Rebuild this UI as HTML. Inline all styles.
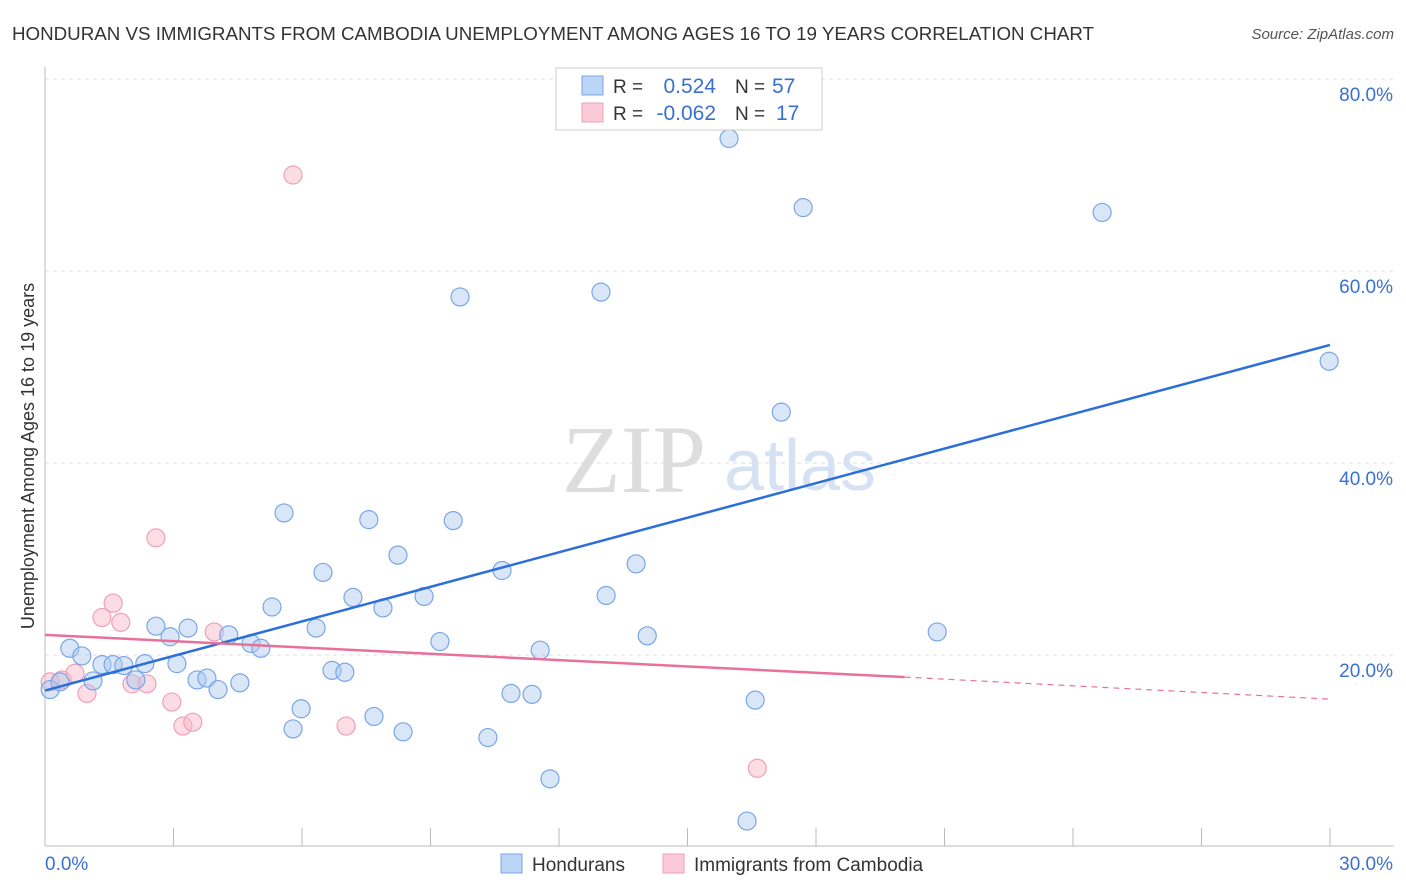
<!DOCTYPE html>
<html><head><meta charset="utf-8"><style>
body{margin:0;background:#fff;font-family:"Liberation Sans",sans-serif;}
#wrap{position:relative;width:1406px;height:892px;overflow:hidden}
</style></head><body>
<div id="wrap">
<svg id="svg" width="1406" height="892" xmlns="http://www.w3.org/2000/svg" font-family="Liberation Sans, sans-serif">
<text x="12" y="40" font-size="18.5" fill="#333" textLength="1082" lengthAdjust="spacingAndGlyphs">HONDURAN VS IMMIGRANTS FROM CAMBODIA UNEMPLOYMENT AMONG AGES 16 TO 19 YEARS CORRELATION CHART</text>
<text x="1394" y="39" font-size="15" fill="#555" font-style="italic" text-anchor="end">Source: ZipAtlas.com</text>
<text x="634" y="492" font-size="96" fill="#ddd" font-family="Liberation Serif, serif" text-anchor="middle">ZIP</text>
<text x="800" y="490" font-size="72" fill="#d6e2f3" text-anchor="middle">atlas</text>
<text transform="translate(34,456) rotate(-90)" font-size="18" fill="#333" text-anchor="middle">Unemployment Among Ages 16 to 19 years</text>
<g id="grid"></g><g id="pts"></g><g id="lines"></g>
<g>
<rect x="556" y="68" width="266" height="62" fill="#fff" stroke="#ccc"/>
<rect x="582" y="76" width="21" height="19" fill="#bcd4f5" stroke="#7aa6e6"/>
<rect x="582" y="103" width="21" height="19" fill="#fbcad8" stroke="#eea0b8"/>
<text x="613" y="93" font-size="19" fill="#333">R =</text><text x="716" y="93" font-size="21" fill="#3a70d0" text-anchor="end">0.524</text>
<text x="735" y="93" font-size="19" fill="#333">N =</text><text x="772" y="93" font-size="21" fill="#3a70d0">57</text>
<text x="613" y="120" font-size="19" fill="#333">R =</text><text x="716" y="120" font-size="21" fill="#3a70d0" text-anchor="end">-0.062</text>
<text x="735" y="120" font-size="19" fill="#333">N =</text><text x="776" y="120" font-size="21" fill="#3a70d0">17</text>
</g>
<g>
<rect x="501" y="854" width="21" height="19" fill="#bcd4f5" stroke="#7aa6e6"/>
<text x="532" y="871" font-size="19" fill="#333">Hondurans</text>
<rect x="663" y="854" width="21" height="19" fill="#fbcad8" stroke="#eea0b8"/>
<text x="694" y="871" font-size="19" fill="#333">Immigrants from Cambodia</text>
</g>
<text x="45" y="870" font-size="19" fill="#3a70d0">0.0%</text>
<text x="1393" y="870" font-size="19" fill="#3a70d0" text-anchor="end">30.0%</text>
</svg></div>
<script>
const yTicks=[20,40,60,80];
const hondX=[0.12,0.35,0.58,0.86,1.12,1.33,1.59,1.84,2.12,2.33,2.59,2.92,3.08,3.34,3.55,3.78,4.04,4.29,4.55,4.81,5.04,5.30,5.58,5.79,5.98,6.33,6.49,6.70,7.00,7.19,7.56,7.68,7.89,8.24,8.36,8.85,9.22,9.53,9.69,10.34,10.67,10.88,11.37,11.56,11.79,12.98,13.10,13.80,14.06,15.97,16.39,16.58,17.19,17.70,20.83,24.68,29.98];
const hondY=[16.4,17.2,20.7,19.9,17.3,19.0,19.0,18.9,17.4,19.1,23.0,21.9,19.1,22.8,17.4,17.6,16.4,22.1,17.1,21.2,20.7,25.0,34.8,12.3,14.4,22.8,28.6,18.4,18.2,26.0,34.1,13.6,24.9,30.4,12.0,26.1,21.4,34.0,57.3,11.4,28.8,16.0,15.9,20.5,7.1,57.8,26.2,29.5,22.0,73.8,2.7,15.3,45.3,66.6,22.4,66.1,50.6];
const cambX=[0.12,0.40,0.70,0.98,1.33,1.59,1.77,2.03,2.38,2.59,2.96,3.22,3.45,3.95,5.79,7.03,16.63];
const cambY=[17.2,17.4,18.1,16.0,23.9,25.4,23.4,17.0,17.0,32.2,15.1,12.6,13.0,22.4,70.0,12.6,8.2];
const hondTrend=[16.3,52.3];
const cambTrend=[22.1,17.7,15.4];
const X=v=>45+v/30*1285, Y=v=>847-v/100*960;
const NS="http://www.w3.org/2000/svg";
function mk(t,a,p){const e=document.createElementNS(NS,t);for(const k in a)e.setAttribute(k,a[k]);p.appendChild(e);return e;}
const grid=document.getElementById('grid');
yTicks.forEach(t=>{
 const l=mk('line',{x1:45,x2:1394,y1:Y(t),y2:Y(t),stroke:'#ddd','stroke-dasharray':'4,4'},grid);
 
 
 const tx=mk('text',{x:1393,y:Y(t)+22,'font-size':19,fill:'#3a70d0','text-anchor':'end'},grid);
 tx.textContent=t.toFixed(1)+'%';
 
 
});
mk('line',{x1:45,x2:45,y1:67,y2:846,stroke:'#bbb'},grid);
mk('line',{x1:45,x2:1394,y1:846,y2:846,stroke:'#bbb'},grid);
for(let i=1;i<=10;i++){mk('line',{x1:45+i*128.5,x2:45+i*128.5,y1:828,y2:846,stroke:'#bbb'},grid);}
const pts=document.getElementById('pts');
cambX.forEach((x,i)=>{
 const c=mk('circle',{cx:X(x),cy:Y(cambY[i]),r:9,fill:'rgba(248,180,200,0.45)',stroke:'#eea0b8','stroke-width':1.2},pts);
 
 
});
hondX.forEach((x,i)=>{
 const c=mk('circle',{cx:X(x),cy:Y(hondY[i]),r:9,fill:'rgba(170,200,240,0.45)',stroke:'#7aa6e6','stroke-width':1.2},pts);
 
 
});
const lines=document.getElementById('lines');
const hl=mk('line',{x1:X(0),y1:Y(hondTrend[0]),x2:X(30),y2:Y(hondTrend[1]),stroke:'#2c6fd8','stroke-width':2.5},lines);


const cl=mk('line',{x1:X(0),y1:Y(cambTrend[0]),x2:X(20.07),y2:Y(cambTrend[1]),stroke:'#e8709a','stroke-width':2.5},lines);


const cd=mk('line',{x1:X(20.07),y1:Y(cambTrend[1]),x2:X(30),y2:Y(cambTrend[2]),stroke:'#e8709a','stroke-width':1.2,'stroke-dasharray':'6,5'},lines);


</script>
</body></html>
